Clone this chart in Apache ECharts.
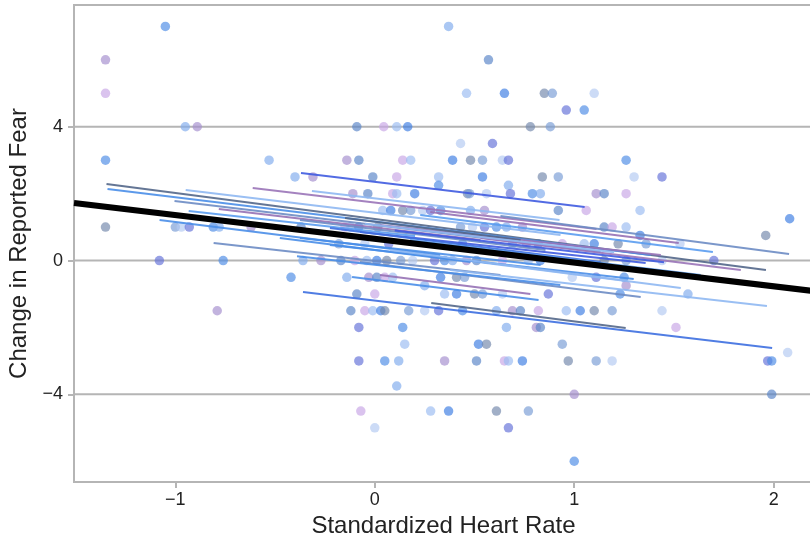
<!DOCTYPE html>
<html>
<head>
<meta charset="utf-8">
<script src="https://cdn.jsdelivr.net/npm/echarts@6/dist/echarts.min.js"></script>
<style>
  html, body { margin: 0; padding: 0; background: #fff; }
  #chart { width: 810px; height: 537px; }
</style>
</head>
<body>
<div id="chart"></div>
<script>
// observations: standardized heart rate vs change in reported fear
var heartRate = [
  -1.05, 0.37,
  -1.35, 0.57,
  -1.35, 0.46, 0.65, 0.85, 0.89, 1.10,
  0.96, 1.05,
  -0.95, -0.89, -0.09, 0.045, 0.11, 0.165, 0.78, 0.88,
  0.43, 0.59,
  -1.35, -0.53, -0.14, -0.08, 0.14, 0.18, 0.39, 0.48, 0.54, 0.64, 0.67, 1.26,
  -0.40, -0.31, -0.01, 0.11, 0.32, 0.54, 0.84, 0.92, 1.30, 1.44,
  0.32, 0.67,
  -0.11, -0.035, 0.09, 0.11, 0.2, 0.465, 0.475, 0.56, 0.68, 0.79, 0.83, 1.11, 1.15, 1.26,
  0.04, 0.08, 0.14, 0.18, 0.24, 0.28, 0.33, 0.48, 0.55, 0.92, 1.06, 1.33,
  2.08,
  -1.35, -1.0, -0.97, -0.93, -0.81, -0.78, -0.62, -0.37, -0.15, -0.12, -0.08, 0.015, 0.43, 0.49, 0.55, 0.61, 0.66, 0.74, 1.15, 1.19, 1.26,
  1.33, 1.96,
  -0.18, -0.05, 0.07, 0.44, 0.69, 0.76, 0.82, 0.94, 1.05, 1.10, 1.22, 1.36, 1.53,
  -1.08, -0.76, -0.36, -0.27, -0.17, -0.10, -0.04, 0.01, 0.06, 0.13, 0.19, 0.30, 0.35, 0.39, 0.46, 0.51, 0.64, 0.77, 0.83, 1.15, 1.26, 1.44, 1.70,
  -0.42, -0.14, -0.03, 0.01, 0.05, 0.09, 0.33, 0.41, 0.45, 0.99, 1.11, 1.25,
  0.25, 1.26,
  -0.09, 0.0, 0.35, 0.41, 0.5, 0.54, 0.64, 0.87, 1.23, 1.57,
  -0.79, -0.12, -0.05, -0.01, 0.03, 0.05, 0.17, 0.25, 0.32, 0.44, 0.61, 0.69, 0.73, 0.82, 0.96, 1.03, 1.10, 1.19, 1.44,
  -0.08, 0.14, 0.66, 0.81, 0.83, 1.51,
  0.15, 0.52, 0.56, 0.94,
  2.07,
  -0.08, 0.05, 0.12, 0.35, 0.51, 0.65, 0.67, 0.74, 0.97, 1.11, 1.19, 1.97, 1.99,
  0.11,
  1.0, 1.99,
  -0.07, 0.28, 0.37, 0.61, 0.77,
  0.0, 0.67,
  1.0
];
var fearChange = [
  7, 7,
  6, 6,
  5, 5, 5, 5, 5, 5,
  4.5, 4.5,
  4, 4, 4, 4, 4, 4, 4, 4,
  3.5, 3.5,
  3, 3, 3, 3, 3, 3, 3, 3, 3, 3, 3, 3,
  2.5, 2.5, 2.5, 2.5, 2.5, 2.5, 2.5, 2.5, 2.5, 2.5,
  2.25, 2.25,
  2, 2, 2, 2, 2, 2, 2, 2, 2, 2, 2, 2, 2, 2,
  1.5, 1.5, 1.5, 1.5, 1.5, 1.5, 1.5, 1.5, 1.5, 1.5, 1.5, 1.5,
  1.25,
  1, 1, 1, 1, 1, 1, 1, 1, 1, 1, 1, 1, 1, 1, 1, 1, 1, 1, 1, 1, 1,
  0.75, 0.75,
  0.5, 0.5, 0.5, 0.5, 0.5, 0.5, 0.5, 0.5, 0.5, 0.5, 0.5, 0.5, 0.5,
  0, 0, 0, 0, 0, 0, 0, 0, 0, 0, 0, 0, 0, 0, 0, 0, 0, 0, 0, 0, 0, 0, 0,
  -0.5, -0.5, -0.5, -0.5, -0.5, -0.5, -0.5, -0.5, -0.5, -0.5, -0.5, -0.5,
  -0.75, -0.75,
  -1, -1, -1, -1, -1, -1, -1, -1, -1, -1,
  -1.5, -1.5, -1.5, -1.5, -1.5, -1.5, -1.5, -1.5, -1.5, -1.5, -1.5, -1.5, -1.5, -1.5, -1.5, -1.5, -1.5, -1.5, -1.5,
  -2, -2, -2, -2, -2, -2,
  -2.5, -2.5, -2.5, -2.5,
  -2.75,
  -3, -3, -3, -3, -3, -3, -3, -3, -3, -3, -3, -3, -3,
  -3.75,
  -4, -4,
  -4.5, -4.5, -4.5, -4.5, -4.5,
  -5, -5,
  -6
];

// per-subject fitted lines (data units)
var lineX0 = [-1.345, -1.340, -0.948, -1.004, -0.933, -0.782, -0.612, -0.370, -0.315, -1.079, -0.808, -0.375,
              -0.360, 0.283, -0.114, 0.378, 0.630, 0.228, 0.278, 0.026, -0.074, 0.127, -0.225, -0.074,
              -0.390, -0.225, -0.149, -0.476, 0.077, -0.375, 0.177, 0.026, 0.530, 0.100, -0.050];
var lineX1 = [1.961, 1.383, 0.931, 1.132, 0.202, 0.530, 1.112, 1.052, 0.926, 0.328, 0.630, 0.831,
              1.992, 1.258, 0.821, 1.966, 2.077, 1.695, 1.524, 1.434, 1.358, 1.534, 1.298, 1.333,
              0.930, 1.132, 0.731, 0.479, 1.233, 0.856, 1.634, 0.780, 1.835, 1.450, 1.200];
var lineY0 = [2.287, 2.138, 2.108, 1.779, 1.480, 1.540, 2.167, 2.616, 2.078, 1.211, 0.523, 0.673,
              -0.942, -1.271, -0.493, -0.284, 1.330, 1.360, 1.450, 1.061, 0.852, 0.254, 0.463, -0.045,
              0.130, 0.972, 1.271, 0.673, 0.314, 1.211, 0.613, -0.434, 0.673, 0.900, 1.100];
var lineY1 = [-0.284, 0.164, 0.762, 0.254, 0.732, 0.613, 0.942, 1.599, 1.211, 0.164, -0.433, -0.135,
              -2.616, -2.018, -1.181, -1.360, 0.194, 0.254, 0.523, 0.164, -0.075, -0.822, -0.553, -1.091,
              -0.730, -0.045, 0.613, -0.045, -0.583, 0.314, -0.433, -1.001, -0.284, -0.050, 0.250];

// fixed effect
var fixedIntercept = 0.65;
var fixedSlope = -0.71;

var xTicks = [-1, 0, 1, 2];
var yTicks = [-4, 0, 4];

var xMin = -1.508, xMax = 2.197;
var yMin = -6.62, yMax = 7.64;

var pointColors = ['#4f8ee6', '#7a9dd6', '#9cbdf2', '#a58fcf', '#6573d8',
                   '#7489ad', '#c9a6e6', '#82adee', '#b4caf1', '#3f7fe3', '#5c86c9'];
var lineColors = ['#53678a', '#4a8ee8', '#8fb8f2', '#6d8cc4', '#5a9cf0', '#9671b5',
                  '#9a74b8', '#3f5be0', '#8fb8f2', '#4a8ee8', '#6d8cc4', '#4a8ee8', '#3d6fe0'];

var pts = [];
for (var i = 0; i < heartRate.length; i++) {
  pts.push({
    value: [heartRate[i], fearChange[i]],
    itemStyle: { color: pointColors[(i * 7) % pointColors.length] }
  });
}

var series = [];
for (var g = 0; g < yTicks.length; g++) {
  series.push({
    type: 'line', silent: true, z: 1, showSymbol: false,
    data: [[xMin, yTicks[g]], [xMax, yTicks[g]]],
    lineStyle: { color: '#b5b5b5', width: 2 }
  });
}
series.push({
  type: 'scatter', z: 2, symbolSize: 9.5,
  itemStyle: { opacity: 0.68 },
  data: pts
});
for (var k = 0; k < lineX0.length; k++) {
  series.push({
    type: 'line', z: 3, showSymbol: false, silent: true,
    data: [[lineX0[k], lineY0[k]], [lineX1[k], lineY1[k]]],
    lineStyle: { color: lineColors[k % lineColors.length], width: 2, opacity: 0.9 }
  });
}
series.push({
  type: 'line', z: 4, showSymbol: false, silent: true,
  data: [[xMin, fixedIntercept + fixedSlope * xMin], [xMax, fixedIntercept + fixedSlope * xMax]],
  lineStyle: { color: '#000', width: 6 }
});

function minusFmt(v) { return String(v).replace('-', '\u2212'); }

var chart = echarts.init(document.getElementById('chart'));
chart.setOption({
  animation: false,
  grid: { left: 74, top: 5, right: -3, bottom: 55, show: true, borderColor: '#b5b5b5', borderWidth: 2,
          containLabel: false, outerBoundsMode: 'none' },
  xAxis: {
    type: 'value', min: xMin, max: xMax,
    name: 'Standardized Heart Rate', nameLocation: 'middle', nameGap: 25,
    nameTextStyle: { fontSize: 24, color: '#222', fontFamily: 'Liberation Sans, Arial' },
    axisLine: { show: false, onZero: false },
    splitLine: { show: false },
    axisTick: { show: true, customValues: xTicks, length: 6, lineStyle: { color: '#b5b5b5', width: 2 } },
    axisLabel: { customValues: xTicks, formatter: minusFmt, fontSize: 18, color: '#222', margin: 9, fontFamily: 'Liberation Sans, Arial' }
  },
  yAxis: {
    type: 'value', min: yMin, max: yMax,
    name: 'Change in Reported Fear', nameLocation: 'middle', nameGap: 34,
    nameTextStyle: { fontSize: 24, color: '#222', fontFamily: 'Liberation Sans, Arial' },
    axisLine: { show: false, onZero: false },
    splitLine: { show: false },
    axisTick: { show: true, customValues: yTicks, length: 6, lineStyle: { color: '#b5b5b5', width: 2 } },
    axisLabel: { customValues: yTicks, formatter: minusFmt, fontSize: 18, color: '#222', margin: 11, fontFamily: 'Liberation Sans, Arial' }
  },
  series: series
});
</script>
</body>
</html>
